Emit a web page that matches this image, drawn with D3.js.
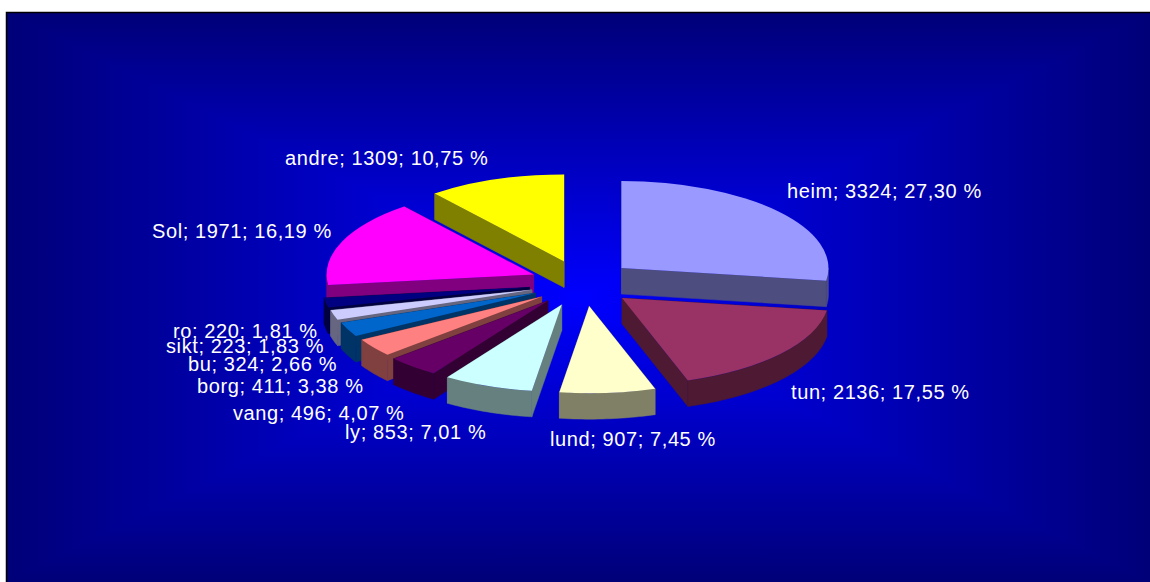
<!DOCTYPE html>
<html>
<head>
<meta charset="utf-8">
<style>
html,body{margin:0;padding:0;background:#fff;overflow:hidden}
svg{display:block}
text{font-family:"Liberation Sans",Arial,sans-serif;font-size:20px;letter-spacing:0.6px;fill:#fff}
</style>
<script src="https://cdn.jsdelivr.net/npm/d3@7/dist/d3.min.js"></script>
</head>
<body>
<svg id="chart" width="1150" height="582"></svg>
<script>
const categories = ["heim","tun","lund","ly","vang","borg","bu","sikt","ro","Sol","andre"];
const values = [3324,2136,907,853,496,411,324,223,220,1971,1309];
const percents = ["27,30","17,55","7,45","7,01","4,07","3,38","2,66","1,83","1,81","16,19","10,75"];
const topColors = ["#9999FF","#993366","#FFFFCC","#CCFFFF","#660066","#FF8080","#0066CC","#CCCCFF","#000080","#FF00FF","#FFFF00"];
const sideColors = ["#4D4D80","#4D1933","#808066","#668080","#330033","#804040","#003366","#666680","#000040","#800080","#808000"];
const drawOrder = ["andre","heim","Sol","tun","ro","sikt","bu","borg","vang","ly","lund"];
const labelAnchors = [[787,198],[791,399],[550,446],[345,439],[233,420],[197,393],[188,371],[166,353],[173,338],[152,238],[285,165]];
const nudgeX = [0,0,3,-1,1,3,2,1,0,1,0];

const W = 1150, H = 582, left = 7, top_ = 13;
const cx = 581.5, cy = 283.2, rx = 207, ry = 87, depth = 26, explode = 0.255, explodeY = 0.265;

const svg = d3.select("#chart");
const defs = svg.append("defs");

// Rectangular (path) gradient background: four triangles meeting at the centre
const gx = (left+W)/2, gy = (top_+H)/2;
svg.append("rect").attr("x",left).attr("y",top_).attr("width",W-left).attr("height",H-top_).attr("fill","#0000A0");
const edges = [
  {id:"gt",x2:gx,y2:top_,pts:[[left,top_],[W,top_],[gx,gy]]},
  {id:"gb",x2:gx,y2:H,pts:[[left,H],[W,H],[gx,gy]]},
  {id:"gl",x2:left,y2:gy,pts:[[left,top_],[left,H],[gx,gy]]},
  {id:"gr",x2:W,y2:gy,pts:[[W,top_],[W,H],[gx,gy]]}
];
edges.forEach(e=>{
  const g = defs.append("linearGradient").attr("id",e.id).attr("gradientUnits","userSpaceOnUse")
    .attr("x1",gx).attr("y1",gy).attr("x2",e.x2).attr("y2",e.y2);
  g.append("stop").attr("offset","0%").attr("stop-color","#0000FF");
  g.append("stop").attr("offset","100%").attr("stop-color","#000078");
  svg.append("path").attr("d",d3.line()(e.pts)+"Z").attr("fill",`url(#${e.id})`).attr("shape-rendering","crispEdges");
});
// frame
svg.append("path").attr("d",d3.line()([[left-0.5,H+2],[left-0.5,top_-0.5],[W+2,top_-0.5]]))
  .attr("fill","none").attr("stroke","#000").attr("stroke-width",1.5);

const slices = d3.pie().sort(null).value((d,i)=>values[i])(categories);
const unit = d3.arc().innerRadius(0).outerRadius(rx);
const line = d3.line();

drawOrder.forEach(name=>{
  const i = categories.indexOf(name), s = slices[i];
  const mid = (s.startAngle+s.endAngle)/2;
  const ox = cx + rx*explode*Math.sin(mid) + nudgeX[i];
  const oy = cy - ry*explodeY*Math.cos(mid);
  const pt = (a,dz=0)=>[ox+rx*Math.sin(a), oy-ry*Math.cos(a)+dz];
  const g = svg.append("g").attr("class","slice");
  const side = (pts)=>g.append("path").attr("d",line(pts)+"Z").attr("fill",sideColors[i]).attr("stroke",sideColors[i]).attr("stroke-width",0.5);
  [s.startAngle,s.endAngle].forEach(a=>{
    side([[ox,oy],pt(a),pt(a,depth),[ox,oy+depth]]);
  });
  const a0 = Math.max(s.startAngle,Math.PI/2), a1 = Math.min(s.endAngle,Math.PI*1.5);
  if(a1>a0){
    const as = d3.range(a0,a1,0.02).concat([a1]);
    side(as.map(a=>pt(a)).concat(as.slice().reverse().map(a=>pt(a,depth))));
  }
  g.append("path").attr("d",unit(s))
    .attr("transform",`translate(${ox},${oy}) scale(1,${ry/rx})`)
    .attr("fill",topColors[i]);
});

svg.append("g").selectAll("text").data(categories).join("text")
  .attr("x",(d,i)=>labelAnchors[i][0]).attr("y",(d,i)=>labelAnchors[i][1])
  .text((d,i)=>`${d}; ${values[i]}; ${percents[i]} %`);
</script>
</body>
</html>
